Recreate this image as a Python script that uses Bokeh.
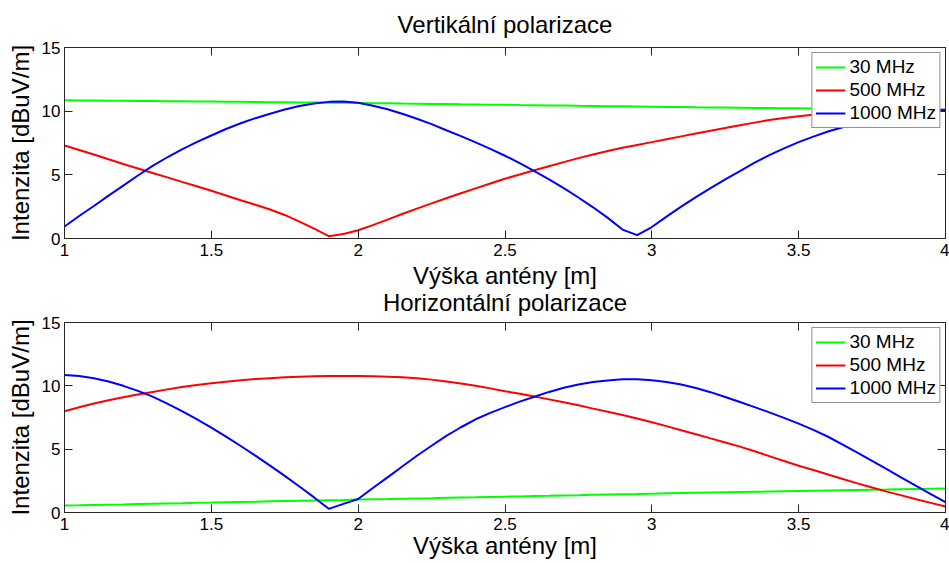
from bokeh.plotting import figure
from bokeh.models import (Range1d, FixedTicker, NumeralTickFormatter, LinearAxis, Legend,
                          LegendItem, CustomLabelingPolicy)
from bokeh.layouts import column
from bokeh.embed import file_html
from bokeh.resources import INLINE

# antenna height [m]
height_m = [1.00, 1.05, 1.10, 1.15, 1.20, 1.25, 1.30, 1.35, 1.40, 1.45,
            1.50, 1.55, 1.60, 1.65, 1.70, 1.75, 1.80, 1.85, 1.90, 1.95,
            2.00, 2.05, 2.10, 2.15, 2.20, 2.25, 2.30, 2.35, 2.40, 2.45,
            2.50, 2.55, 2.60, 2.65, 2.70, 2.75, 2.80, 2.85, 2.90, 2.95,
            3.00, 3.05, 3.10, 3.15, 3.20, 3.25, 3.30, 3.35, 3.40, 3.45,
            3.50, 3.55, 3.60, 3.65, 3.70, 3.75, 3.80, 3.85, 3.90, 3.95,
            4.00]

# vertical polarization
vert_30 = [10.85, 10.84, 10.83, 10.82, 10.81, 10.80, 10.79, 10.78, 10.77, 10.76,
           10.75, 10.74, 10.73, 10.72, 10.71, 10.70, 10.69, 10.68, 10.67, 10.66,
           10.65, 10.63, 10.62, 10.60, 10.59, 10.57, 10.56, 10.54, 10.53, 10.51,
           10.50, 10.48, 10.47, 10.45, 10.44, 10.42, 10.41, 10.39, 10.38, 10.37,
           10.35, 10.33, 10.32, 10.30, 10.29, 10.28, 10.27, 10.25, 10.24, 10.23,
           10.22, 10.21, 10.20, 10.19, 10.18, 10.17, 10.16, 10.15, 10.14, 10.13,
           10.12]
vert_500 = [7.30, 6.95, 6.60, 6.22, 5.85, 5.50, 5.15, 4.80, 4.45, 4.10,
            3.75, 3.38, 3.00, 2.65, 2.28, 1.85, 1.32, 0.78, 0.18, 0.35,
            0.65, 1.05, 1.48, 1.92, 2.35, 2.76, 3.16, 3.55, 3.94, 4.32,
            4.69, 5.03, 5.36, 5.68, 6.00, 6.31, 6.60, 6.87, 7.12, 7.35,
            7.57, 7.80, 8.02, 8.24, 8.46, 8.68, 8.90, 9.10, 9.30, 9.46,
            9.60, 9.71, 9.80, 9.88, 9.95, 10.01, 10.05, 10.08, 10.10, 10.11,
            10.12]
vert_1000 = [0.94, 1.77, 2.55, 3.37, 4.15, 4.95, 5.70, 6.38, 7.00, 7.57,
             8.09, 8.60, 9.05, 9.45, 9.80, 10.13, 10.40, 10.60, 10.73, 10.75,
             10.66, 10.43, 10.15, 9.80, 9.40, 8.98, 8.50, 8.04, 7.55, 7.04,
             6.50, 5.92, 5.30, 4.65, 3.95, 3.22, 2.45, 1.62, 0.70, 0.27,
             0.90, 1.72, 2.50, 3.25, 3.95, 4.65, 5.30, 5.95, 6.55, 7.08,
             7.57, 8.00, 8.40, 8.74, 9.05, 9.32, 9.55, 9.73, 9.88, 10.00,
             10.10]

# horizontal polarization
horiz_30 = [0.55, 0.57, 0.60, 0.62, 0.64, 0.67, 0.69, 0.71, 0.73, 0.76,
            0.78, 0.81, 0.83, 0.85, 0.88, 0.90, 0.92, 0.95, 0.97, 0.99,
            1.02, 1.04, 1.06, 1.09, 1.11, 1.13, 1.16, 1.18, 1.20, 1.23,
            1.25, 1.27, 1.30, 1.32, 1.35, 1.37, 1.40, 1.42, 1.44, 1.46,
            1.49, 1.51, 1.53, 1.55, 1.57, 1.59, 1.61, 1.63, 1.65, 1.67,
            1.69, 1.71, 1.73, 1.75, 1.77, 1.79, 1.81, 1.84, 1.86, 1.88,
            1.90]
horiz_500 = [8.00, 8.31, 8.60, 8.86, 9.10, 9.31, 9.52, 9.72, 9.90, 10.06,
             10.20, 10.33, 10.45, 10.53, 10.60, 10.67, 10.72, 10.75, 10.77, 10.78,
             10.78, 10.76, 10.72, 10.67, 10.60, 10.49, 10.35, 10.19, 10.00, 9.80,
             9.58, 9.37, 9.15, 8.93, 8.70, 8.46, 8.20, 7.96, 7.70, 7.42,
             7.12, 6.82, 6.50, 6.18, 5.85, 5.53, 5.20, 4.83, 4.45, 4.07,
             3.69, 3.35, 3.00, 2.65, 2.30, 1.97, 1.65, 1.35, 1.05, 0.76,
             0.47]
horiz_1000 = [10.85, 10.78, 10.60, 10.34, 10.00, 9.60, 9.15, 8.60, 8.00, 7.37,
              6.70, 5.99, 5.25, 4.49, 3.70, 2.89, 2.05, 1.19, 0.29, 0.68,
              1.07, 1.93, 2.77, 3.63, 4.48, 5.27, 6.05, 6.73, 7.36, 7.87,
              8.32, 8.75, 9.14, 9.52, 9.85, 10.10, 10.30, 10.43, 10.52, 10.52,
              10.44, 10.30, 10.10, 9.83, 9.50, 9.12, 8.72, 8.32, 7.90, 7.47,
              7.02, 6.52, 5.98, 5.36, 4.72, 4.07, 3.42, 2.76, 2.10, 1.45,
              0.81]

series_labels = ["30 MHz", "500 MHz", "1000 MHz"]
series_colors = ["#00ff00", "#ff0000", "#0000ff"]
x_ticks = [1, 1.5, 2, 2.5, 3, 3.5, 4]
y_ticks = [0, 5, 10, 15]
titles = ["Vertikální polarizace", "Horizontální polarizace"]
x_label = "Výška antény [m]"
y_label = "Intenzita [dBuV/m]"

FONT = "Liberation Sans"
AX = "#262626"

NO_LABELS = CustomLabelingPolicy(code="""
try {
  for (const i of Array.from(indices.ones())) { indices.unset(i) }
} catch (e) {}
return indices
""")


def style_axis(ax, ticks, show_labels=True):
    ax.ticker = FixedTicker(ticks=ticks)
    ax.axis_line_color = AX
    ax.axis_line_width = 1
    ax.major_tick_line_color = AX
    ax.major_tick_in = 8
    ax.major_tick_out = 0
    ax.minor_tick_in = 0
    ax.minor_tick_out = 0
    ax.major_label_text_font = FONT
    ax.major_label_text_color = "black"
    if show_labels:
        ax.major_label_text_font_size = "17px"
    else:
        ax.major_label_text_font_size = "1px"
        ax.major_label_standoff = 0
        ax.major_label_policy = NO_LABELS


def make(title, data, h, top_b, bottom_b, title_standoff, xlabel_standoff, **kw):
    p = figure(width=949, height=h, output_backend="svg", toolbar_location=None,
               x_range=Range1d(1, 4), y_range=Range1d(0, 15),
               min_border_left=64, min_border_right=4,
               min_border_top=top_b, min_border_bottom=bottom_b,
               x_axis_label=x_label, y_axis_label=y_label, **kw)
    p.title.text = title
    p.title.align = "center"
    p.title.text_font = FONT
    p.title.text_font_size = "24px"
    p.title.text_font_style = "normal"
    p.title.text_color = "black"
    p.title.standoff = title_standoff
    p.grid.visible = False
    p.outline_line_color = AX
    p.background_fill_color = "white"
    p.border_fill_alpha = 0.0

    xa = p.xaxis[0]
    style_axis(xa, x_ticks)
    xa.formatter = NumeralTickFormatter(format="0.[0]")
    xa.major_label_standoff = 5
    xa.axis_label_standoff = xlabel_standoff
    xa.axis_label_text_font = FONT
    xa.axis_label_text_font_size = "24px"
    xa.axis_label_text_font_style = "normal"
    xa.axis_label_text_color = "black"

    ya = p.yaxis[0]
    style_axis(ya, y_ticks)
    ya.major_label_standoff = 4
    ya.axis_label_standoff = 5
    ya.axis_label_text_font = FONT
    ya.axis_label_text_font_size = "24px"
    ya.axis_label_text_font_style = "normal"
    ya.axis_label_text_color = "black"

    top = LinearAxis()
    style_axis(top, x_ticks, show_labels=False)
    p.add_layout(top, "above")
    right = LinearAxis()
    style_axis(right, y_ticks, show_labels=False)
    p.add_layout(right, "right")

    items = []
    for ys, lab, col in zip(data, series_labels, series_colors):
        r = p.line(x=height_m, y=ys, line_color=col, line_width=2)
        items.append(LegendItem(label=lab, renderers=[r]))
    leg = Legend(items=items, location="top_right")
    leg.label_text_font = FONT
    leg.label_text_font_size = "19px"
    leg.label_text_color = "black"
    leg.glyph_width = 30
    leg.glyph_height = 20
    leg.label_height = 20
    leg.label_standoff = 4
    leg.spacing = 1
    leg.padding = 3
    leg.margin = 5
    leg.border_line_color = AX
    leg.border_line_width = 1
    leg.background_fill_color = "white"
    leg.background_fill_alpha = 1.0
    p.add_layout(leg)
    return p


p1 = make(titles[0], [vert_30, vert_500, vert_1000], 293, 47, 55, 11, 3)
p2 = make(titles[1], [horiz_30, horiz_500, horiz_1000], 280, 38, 51, 6, -1,
          margin=(-10, 0, 0, 0))
layout = column(p1, p2, spacing=0, styles={"background-color": "white"})

open("out.html", "w").write(file_html(layout, INLINE))
